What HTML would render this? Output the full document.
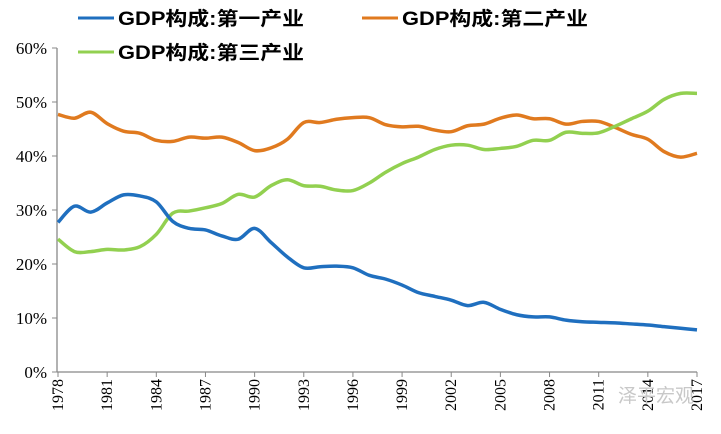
<!DOCTYPE html>
<html><head><meta charset="utf-8"><style>
body{margin:0;background:#fff;}
svg{display:block;}
</style></head><body>
<svg id="chart" width="721" height="434" xmlns="http://www.w3.org/2000/svg">
<g id="legend" font-family="'Liberation Sans Narrow','Liberation Sans','Noto Sans CJK SC',sans-serif" font-weight="bold" font-size="19">
 <g><line x1="78" y1="18" x2="114" y2="18" stroke="#1f6fbf" stroke-width="3"/><text x="118" y="25" textLength="186" lengthAdjust="spacingAndGlyphs">GDP构成:第一产业</text></g>
 <g><line x1="362" y1="18" x2="398" y2="18" stroke="#e07a1f" stroke-width="3"/><text x="402" y="25" textLength="186" lengthAdjust="spacingAndGlyphs">GDP构成:第二产业</text></g>
 <g><line x1="78" y1="52" x2="114" y2="52" stroke="#92d050" stroke-width="3"/><text x="118" y="59" textLength="186" lengthAdjust="spacingAndGlyphs">GDP构成:第三产业</text></g>
</g>
<g id="axes"></g>
<g id="series"></g>
<text x="618" y="402" font-family="'Noto Sans CJK SC',sans-serif" font-size="19" fill="#c8c8c8">泽平宏观</text>
</svg>
<script>
const years=[];for(let y=1978;y<=2017;y++)years.push(y);
const primary=[27.7,30.7,29.6,31.3,32.8,32.6,31.5,27.9,26.6,26.3,25.2,24.6,26.6,24.0,21.3,19.3,19.5,19.6,19.3,17.9,17.2,16.1,14.7,14.0,13.3,12.3,12.9,11.6,10.6,10.2,10.2,9.6,9.3,9.2,9.1,8.9,8.7,8.4,8.1,7.8];
const secondary=[47.7,47.0,48.1,46.0,44.6,44.2,42.9,42.7,43.5,43.3,43.5,42.5,41.0,41.5,43.1,46.2,46.2,46.8,47.1,47.1,45.8,45.4,45.5,44.8,44.5,45.6,45.9,47.0,47.6,46.9,46.9,45.9,46.4,46.4,45.3,44.0,43.1,40.8,39.8,40.5];
const tertiary=[24.6,22.3,22.3,22.7,22.6,23.2,25.5,29.4,29.8,30.4,31.2,32.9,32.4,34.5,35.6,34.5,34.4,33.7,33.6,35.0,37.0,38.6,39.8,41.2,42.0,42.0,41.2,41.4,41.8,42.9,42.9,44.4,44.2,44.3,45.5,46.9,48.3,50.5,51.6,51.6];
const yTicks=[0,10,20,30,40,50,60];
const xTickYears=[1978,1981,1984,1987,1990,1993,1996,1999,2002,2005,2008,2011,2014,2017];
const NS='http://www.w3.org/2000/svg';
const X0=58,X1=697,Y0=372,Y1=48;
function xs(y){return X0+(y-1978)/(2017-1978)*(X1-X0);}
function ys(v){return Y0-v/60*(Y0-Y1);}
function mk(t,a,p){const e=document.createElementNS(NS,t);for(const k in a)e.setAttribute(k,a[k]);p.appendChild(e);return e;}
const ax=document.getElementById('axes');
const yl=mk('line',{x1:57,y1:Y1,x2:57,y2:Y0,stroke:'#888','stroke-width':1.3},ax);


const xl=mk('line',{x1:57,y1:Y0,x2:X1,y2:Y0,stroke:'#888','stroke-width':1.3},ax);


yTicks.forEach(v=>{
 mk('line',{x1:52,y1:ys(v),x2:57,y2:ys(v),stroke:'#888'},ax);
 const t=mk('text',{x:47,y:ys(v)+6,'text-anchor':'end','font-family':"'Liberation Serif',serif",'font-size':17},ax);
 t.textContent=v+'%';
 
 
});
xTickYears.forEach(yr=>{
 const x=xs(yr);
 mk('line',{x1:x,y1:Y0,x2:x,y2:Y0+5,stroke:'#888'},ax);
 const t=mk('text',{x:0,y:0,transform:`translate(${x+5},${Y0+7}) rotate(-90)`,'text-anchor':'end','font-family':"'Liberation Serif',serif",'font-size':16},ax);
 t.textContent=yr;
 
 
});
function path(vals){
 const p=vals.map((v,i)=>[xs(years[i]),ys(v)]);
 let d=`M${p[0][0]},${p[0][1]}`;
 for(let i=0;i<p.length-1;i++){
  const a=p[Math.max(0,i-1)],b=p[i],c=p[i+1],e=p[Math.min(p.length-1,i+2)];
  const c1=[b[0]+(c[0]-a[0])/6,b[1]+(c[1]-a[1])/6],c2=[c[0]-(e[0]-b[0])/6,c[1]-(e[1]-b[1])/6];
  d+=` C${c1[0]},${c1[1]} ${c2[0]},${c2[1]} ${c[0]},${c[1]}`;
 }
 return d;
}
const sg=document.getElementById('series');
[[secondary,'#e07a1f','line-secondary'],[tertiary,'#92d050','line-tertiary'],[primary,'#1f6fbf','line-primary']].forEach(s=>{
 const el=mk('path',{d:path(s[0]),fill:'none',stroke:s[1],'stroke-width':3.5,'stroke-linejoin':'round'},sg);
 
 
});
</script>
</body></html>
